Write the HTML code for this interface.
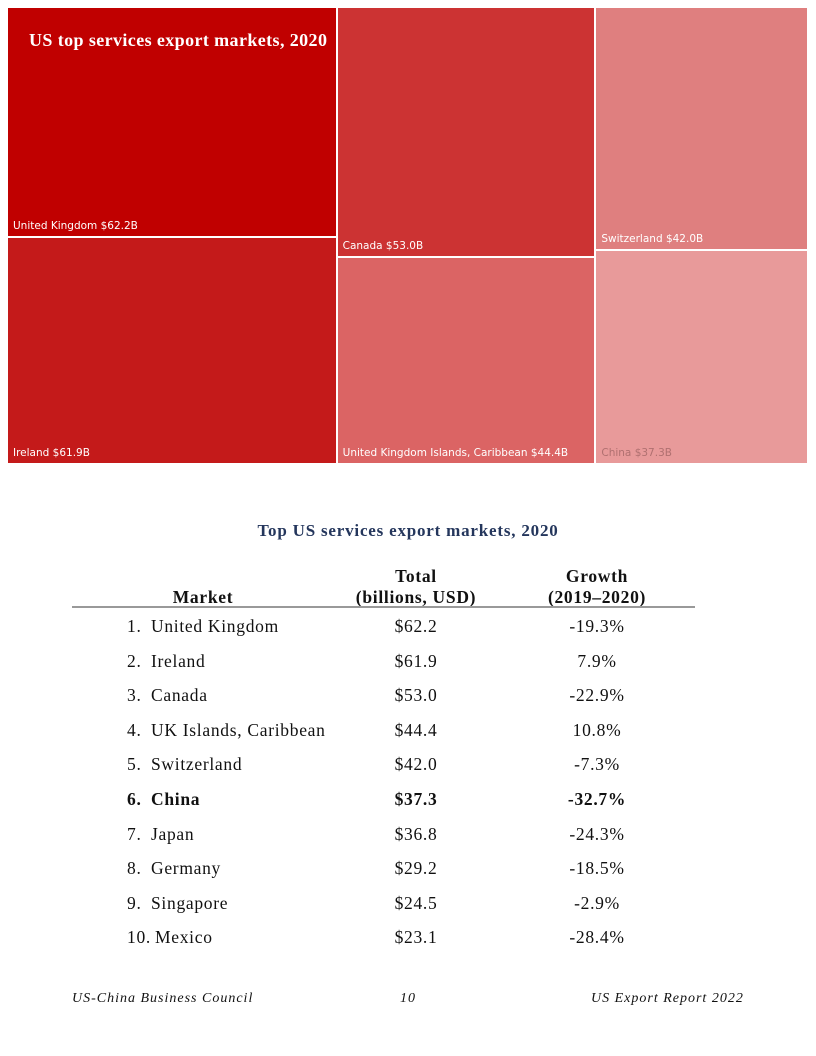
<!DOCTYPE html>
<html><head><meta charset="utf-8">
<style>
body{margin:0;width:816px;height:1056px;background:#fff;position:relative;font-family:"Liberation Serif",serif;}
.tile{position:absolute;}
.tl{position:absolute;left:5px;bottom:4px;font-family:"DejaVu Sans","Liberation Sans",sans-serif;font-size:10.5px;color:#fff;white-space:nowrap;}
.t{position:absolute;white-space:nowrap;font-size:17.5px;letter-spacing:0.7px;color:#111;}
.c{transform:translateX(-50%);text-align:center;}
.f{position:absolute;top:991px;font-style:italic;font-size:14px;letter-spacing:1px;color:#111;}
</style></head><body>
<div id="treemap" style="position:absolute;left:8px;top:8px;width:799px;height:455px;"></div>
<div style="position:absolute;left:29px;top:30px;font-size:18px;letter-spacing:0.4px;font-weight:bold;color:#fff;">US top services export markets, 2020</div>

<div class="t c" style="left:408px;top:521px;font-weight:bold;color:#24365c;font-size:17px;letter-spacing:0.8px;">Top US services export markets, 2020</div>
<div class="t c" style="left:203px;top:587px;font-weight:bold;">Market</div>
<div class="t c" style="left:416px;top:566px;font-weight:bold;line-height:21px;">Total<br>(billions, USD)</div>
<div class="t c" style="left:597px;top:566px;font-weight:bold;line-height:21px;">Growth<br>(2019–2020)</div>
<div style="position:absolute;left:72px;top:606px;width:623px;height:2px;background:#999;"></div>
<div id="rows"></div>

<div class="f" style="left:72px;">US-China Business Council</div>
<div class="f" style="left:400px;">10</div>
<div class="f" style="left:591px;">US Export Report 2022</div>

<script>
const markets=["United Kingdom","Ireland","Canada","United Kingdom Islands, Caribbean","Switzerland","China"];
const values=[62.2,61.9,53.0,44.4,42.0,37.3];
const colors=["#c00000","#c41a1a","#cc3333","#db6464","#df7f7f","#e89a9a"];
const tableNames=["United Kingdom","Ireland","Canada","UK Islands, Caribbean","Switzerland","China","Japan","Germany","Singapore","Mexico"];
const tableTotals=["$62.2","$61.9","$53.0","$44.4","$42.0","$37.3","$36.8","$29.2","$24.5","$23.1"];
const tableGrowth=["-19.3%","7.9%","-22.9%","10.8%","-7.3%","-32.7%","-24.3%","-18.5%","-2.9%","-28.4%"];

const tm=document.getElementById('treemap');
const W=799,H=455,gap=2;
const total=values.reduce((a,b)=>a+b,0);
let x=0;
for(let c=0;c<3;c++){
  const a=values[2*c],b=values[2*c+1];
  const cw=(a+b)/total*W;
  const h1=a/(a+b)*H;
  [[0,h1,2*c],[h1,H-h1,2*c+1]].forEach(([y,h,i])=>{
    const d=document.createElement('div');
    d.className='tile';
    
    
    d.style.left=x+'px';d.style.top=(y+(y>0?gap:0))+'px';
    d.style.width=(cw-(c<2?gap:0))+'px';d.style.height=(h-(y>0?gap:0))+'px';
    d.style.background=colors[i];
    const l=document.createElement('div');
    l.className='tl';
    
    
    l.textContent=markets[i]+' $'+values[i].toFixed(1)+'B';
    if(i===5) l.style.color='#b07070';
    d.appendChild(l);tm.appendChild(d);
  });
  x+=cw;
}
const rows=document.getElementById('rows');
tableNames.forEach((n,i)=>{
  const top=616+i*34.6;
  const bold=i===5?'bold':'normal';
  const mk=(txt,left,cls,name)=>{
    const e=document.createElement('div');
    e.className='t '+cls;
    
    
    e.style.left=left+'px';e.style.top=top+'px';e.style.fontWeight=bold;
    e.textContent=txt;rows.appendChild(e);
  };
  mk((i+1)+'.',127,'','row-rank');
  mk(n,i===9?155:151,'','row-market');
  mk(tableTotals[i],416,'c','row-total');
  mk(tableGrowth[i],597,'c','row-growth');
});
</script>
</body></html>
